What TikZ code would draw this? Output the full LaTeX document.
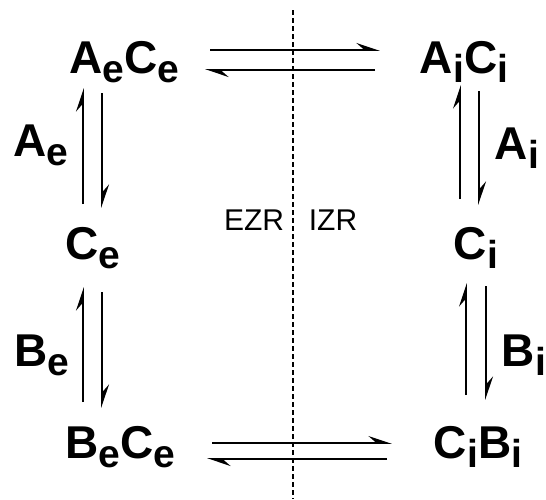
\documentclass[tikz,border=0pt]{standalone}
\usepackage{fontspec}
\setmainfont{Liberation Sans}
\usetikzlibrary{arrows.meta}
\newcommand\sbx[1]{\raisebox{-9pt}{\fontsize{39}{46}\selectfont #1}}
\begin{document}
\begin{tikzpicture}[x=1pt,y=-1pt,
  lbl/.style={anchor=base,inner sep=0pt,font=\fontsize{46}{54}\selectfont\bfseries},
  zone/.style={anchor=base,inner sep=0pt,font=\fontsize{30}{36}\selectfont},
  harp/.style={line width=1.7pt,-{Stealth[harpoon,length=21pt,width=14pt,inset=8pt]}},
  divider/.style={line width=1.4pt,dash pattern=on 5pt off 3pt}]
\useasboundingbox (0,0) rectangle (546,499);
% species
\node[lbl] (AeCe) at (124,73) {A\sbx{e}C\sbx{e}};
\node[lbl] (AiCi) at (464,73) {A\sbx{i}C\sbx{i}};
\node[lbl] (Ce) at (93,259) {C\sbx{e}};
\node[lbl] (Ci) at (476,259) {C\sbx{i}};
\node[lbl] (BeCe) at (120,458) {B\sbx{e}C\sbx{e}};
\node[lbl] (CiBi) at (478,458) {C\sbx{i}B\sbx{i}};
% step labels
\node[lbl] (Ae) at (41,156) {A\sbx{e}};
\node[lbl] (Ai) at (517,159) {A\sbx{i}};
\node[lbl] (Be) at (42,366) {B\sbx{e}};
\node[lbl] (Bi) at (524,366) {B\sbx{i}};
% zones
\node[zone] (EZR) at (254,230) {EZR};
\node[zone] (IZR) at (333,230) {IZR};
% divider
\coordinate (dTop) at (293,10);
\coordinate (dBot) at (293,499);
\draw[divider] (dTop) -- (dBot);
% top horizontal pair
\coordinate (t1a) at (210,50); \coordinate (t1b) at (380,50);
\coordinate (t2a) at (375,70); \coordinate (t2b) at (205,70);
\draw[harp] (t1a) -- (t1b);
\draw[harp] (t2a) -- (t2b);
% bottom horizontal pair
\coordinate (b1a) at (212,443); \coordinate (b1b) at (392,443);
\coordinate (b2a) at (387,459); \coordinate (b2b) at (207,459);
\draw[harp] (b1a) -- (b1b);
\draw[harp] (b2a) -- (b2b);
% left top vertical pair
\coordinate (l1a) at (83,204); \coordinate (l1b) at (83,88);
\coordinate (l2a) at (102,93); \coordinate (l2b) at (102,208);
\draw[harp] (l1a) -- (l1b);
\draw[harp] (l2a) -- (l2b);
% left bottom vertical pair
\coordinate (l3a) at (83,402); \coordinate (l3b) at (83,287);
\coordinate (l4a) at (102,292); \coordinate (l4b) at (102,408);
\draw[harp] (l3a) -- (l3b);
\draw[harp] (l4a) -- (l4b);
% right top vertical pair
\coordinate (r1a) at (460,199); \coordinate (r1b) at (460,85);
\coordinate (r2a) at (479,91); \coordinate (r2b) at (479,205);
\draw[harp] (r1a) -- (r1b);
\draw[harp] (r2a) -- (r2b);
% right bottom vertical pair
\coordinate (r3a) at (466,395); \coordinate (r3b) at (466,283);
\coordinate (r4a) at (486,286); \coordinate (r4b) at (486,400);
\draw[harp] (r3a) -- (r3b);
\draw[harp] (r4a) -- (r4b);
\end{tikzpicture}
\end{document}
